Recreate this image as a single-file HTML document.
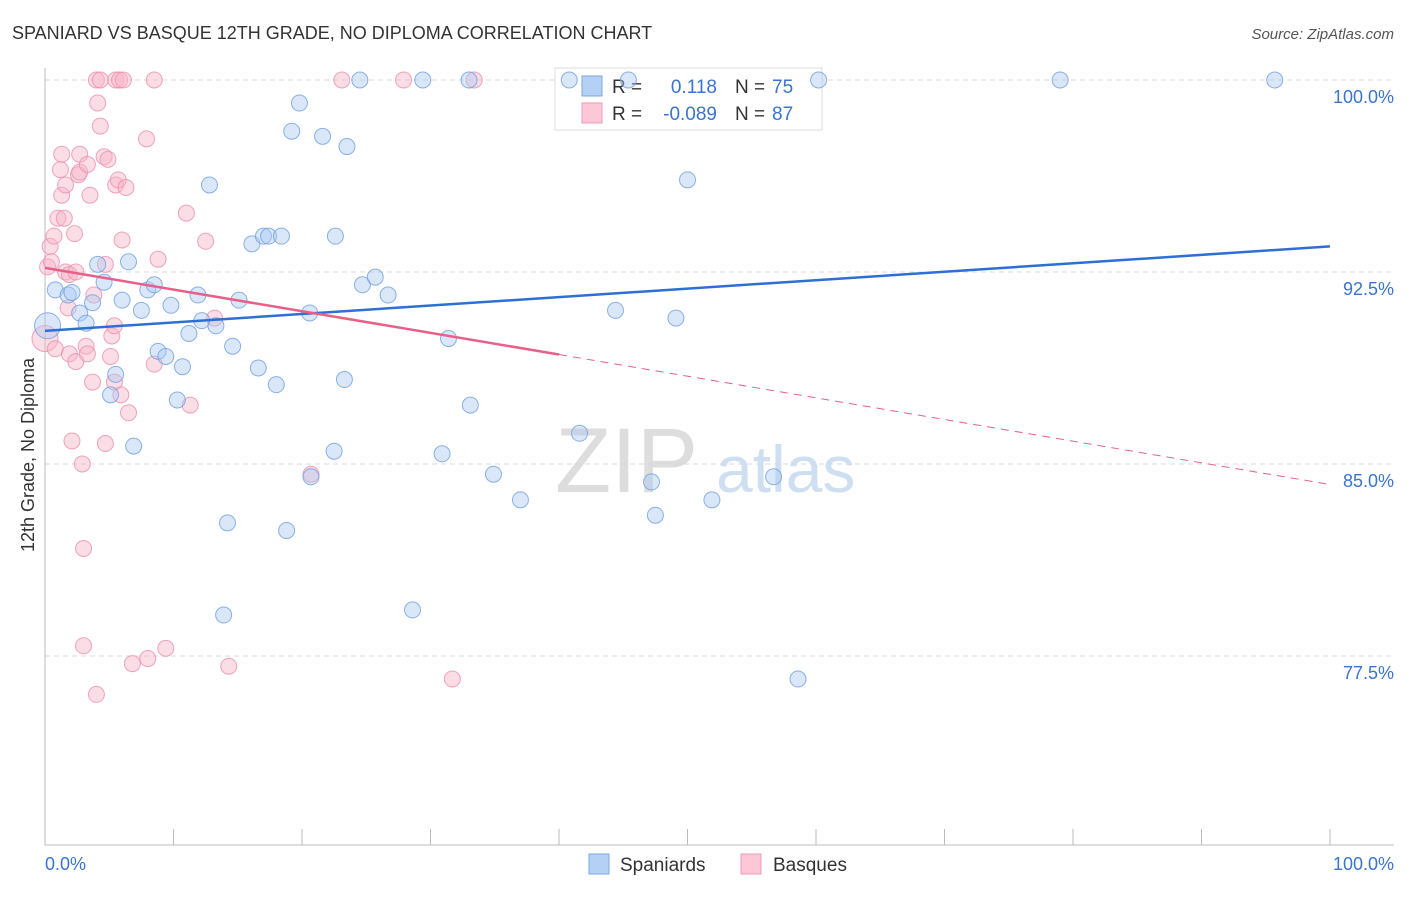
<!DOCTYPE html>
<html><head><meta charset="utf-8">
<style>
body{margin:0;background:#fff;font-family:"Liberation Sans",sans-serif;}
svg text{font-family:"Liberation Sans",sans-serif;}
</style></head>
<body>
<svg id="chart" width="1406" height="892" xmlns="http://www.w3.org/2000/svg">
<text x="12" y="39" font-size="18" fill="#333">SPANIARD VS BASQUE 12TH GRADE, NO DIPLOMA CORRELATION CHART</text>
<text x="1394" y="39" font-size="15" fill="#555" text-anchor="end" font-style="italic">Source: ZipAtlas.com</text>
<text transform="translate(34,455) rotate(-90)" font-size="18" fill="#333" text-anchor="middle">12th Grade, No Diploma</text>
<g>
<text x="555" y="492" font-size="92" fill="#ddd" font-family="Liberation Serif">ZIP</text>
<text x="716" y="492" font-size="66" fill="#cfdff2">atlas</text>
</g>
<g id="grid"></g><g id="axes"></g>
<g>
<rect x="555" y="68" width="267" height="62" fill="#fff" stroke="#ddd"/>
<rect x="582" y="76" width="20" height="20" fill="#b5d0f5" stroke="#7aa7e6"/>
<rect x="582" y="103" width="20" height="20" fill="#fcc7d6" stroke="#f09ab4"/>
<text x="612" y="93" font-size="19" fill="#333">R =</text>
<text x="717" y="93" font-size="19" fill="#3a74d0" text-anchor="end">0.118</text>
<text x="735" y="93" font-size="19" fill="#333">N =</text>
<text x="772" y="93" font-size="19" fill="#3a74d0">75</text>
<text x="612" y="120" font-size="19" fill="#333">R =</text>
<text x="717" y="120" font-size="19" fill="#3a74d0" text-anchor="end">-0.089</text>
<text x="735" y="120" font-size="19" fill="#333">N =</text>
<text x="772" y="120" font-size="19" fill="#3a74d0">87</text>
</g>
<g id="marks"></g><g id="trends"></g>
<g>
<rect x="589" y="854" width="20" height="20" fill="#b5d0f5" stroke="#7aa7e6"/>
<text x="620" y="871" font-size="19" fill="#333">Spaniards</text>
<rect x="741" y="854" width="20" height="20" fill="#fcc7d6" stroke="#f09ab4"/>
<text x="773" y="871" font-size="19" fill="#333">Basques</text>
</g>
<text x="45" y="870" font-size="18" fill="#3a74d0">0.0%</text>
<text x="1394" y="870" font-size="18" fill="#3a74d0" text-anchor="end">100.0%</text>
</svg>
<script>
const yTicks=[100,92.5,85,77.5];
const yTickLabels=["100.0%","92.5%","85.0%","77.5%"];
const xTicks=[0,10,20,30,40,50,60,70,80,90,100];
const blueX=[0.2,0.8,1.8,2.1,2.7,3.2,3.7,4.1,4.6,5.5,5.1,6.0,6.5,6.9,7.5,8.0,8.5,8.8,9.4,9.8,10.3,10.7,11.2,11.9,12.2,12.8,13.3,14.2,14.6,13.9,15.1,16.1,16.6,17.0,17.4,18.0,18.4,18.8,19.2,19.8,20.6,20.7,21.6,22.5,22.6,23.3,23.5,24.5,24.7,25.7,26.7,28.6,29.4,30.9,31.4,33.0,33.1,34.9,37.0,40.8,41.6,44.4,45.4,47.2,47.5,49.1,50.0,51.9,56.7,58.6,60.2,79.0,95.7];
const blueY=[90.4,91.8,91.6,91.7,90.9,90.5,91.3,92.8,92.1,88.5,87.7,91.4,92.9,85.7,91.0,91.8,92.0,89.4,89.2,91.2,87.5,88.8,90.1,91.6,90.6,95.9,90.4,82.7,89.6,79.1,91.4,93.6,88.75,93.9,93.9,88.1,93.9,82.4,98.0,99.1,90.9,84.5,97.8,85.5,93.9,88.3,97.4,100,92.0,92.3,91.6,79.3,100,85.4,89.9,100,87.3,84.6,83.6,100,86.2,91.0,100,84.3,83.0,90.7,96.1,83.6,84.5,76.6,100,100,100];
const pinkX=[0,0.2,0.4,0.5,0.7,0.8,1.0,1.2,1.3,1.3,1.5,1.6,1.6,1.8,1.9,1.9,2.1,2.3,2.4,2.4,2.6,2.7,2.7,2.9,3.0,3.0,3.2,3.3,3.3,3.5,3.7,3.8,4.0,4.0,4.1,4.3,4.3,4.6,4.7,4.7,4.9,5.1,5.2,5.4,5.4,5.5,5.5,5.7,5.8,5.9,6.0,6.1,6.3,6.5,6.8,7.9,8.0,8.5,8.5,8.8,9.4,11.0,11.3,12.5,13.2,14.3,20.7,23.1,27.9,31.7,33.4];
const pinkY=[89.9,92.7,93.5,92.9,93.9,89.5,94.6,96.5,95.5,97.1,94.6,95.9,92.5,91.1,89.3,92.4,85.9,94.0,89.0,92.5,96.3,96.4,97.1,85.0,81.7,77.9,89.6,96.7,89.3,95.5,88.2,91.6,100,76.0,99.1,98.2,100,97.0,85.8,92.8,96.9,89.2,90.0,90.4,88.2,100,95.9,96.1,100,87.7,93.75,100,95.8,87.0,77.2,97.7,77.4,100,88.9,93.0,77.8,94.8,87.3,93.7,90.7,77.1,84.6,100,100,76.6,100];
const blueTrend=[90.2,93.5];
const pinkTrend=[92.66,84.2];
const pinkSolidEnd=40;
const NS="http://www.w3.org/2000/svg";
const X=v=>45+v*12.85, Y=v=>80+(100-v)*25.6;
function mk(tag,attrs,parent){const e=document.createElementNS(NS,tag);for(const k in attrs)e.setAttribute(k,attrs[k]);parent.appendChild(e);return e;}
const grid=document.getElementById('grid'),axes=document.getElementById('axes'),marks=document.getElementById('marks'),trends=document.getElementById('trends');
yTicks.forEach((t,i)=>{
 const l=mk('line',{x1:45,x2:1394,y1:Y(t),y2:Y(t),stroke:'#d8d8d8','stroke-dasharray':'5,4'},grid);
 
 
 const tx=mk('text',{x:1394,y:Y(t)+23,'font-size':18,fill:'#3a74d0','text-anchor':'end'},grid);
 tx.textContent=yTickLabels[i];
 
 
});
const ya=mk('line',{x1:45,x2:45,y1:68,y2:845,stroke:'#bbb'},axes);


const xa=mk('line',{x1:45,x2:1394,y1:845,y2:845,stroke:'#bbb'},axes);


xTicks.forEach(t=>{
 const l=mk('line',{x1:X(t),x2:X(t),y1:829,y2:845,stroke:'#bbb'},axes);
 
 
});
function pts(xs,ys,fill,stroke,name){
 xs.forEach((x,i)=>{
  const c=mk('circle',{cx:X(x),cy:Y(ys[i]),r:(i===0?13:8),fill:fill,'fill-opacity':0.45,stroke:stroke,'stroke-opacity':0.8,'stroke-width':1},marks);
  
  
 });
}
pts(pinkX,pinkY,'#f7b4c8','#ec8fac','basque-point');
pts(blueX,blueY,'#abc9f2','#6f9fe0','spaniard-point');
const bl=mk('line',{x1:X(0),y1:Y(blueTrend[0]),x2:X(100),y2:Y(blueTrend[1]),stroke:'#2e6fd4','stroke-width':2.5},trends);


const pAt=x=>pinkTrend[0]+(pinkTrend[1]-pinkTrend[0])*x/100;
const ps=mk('line',{x1:X(0),y1:Y(pAt(0)),x2:X(pinkSolidEnd),y2:Y(pAt(pinkSolidEnd)),stroke:'#e8608a','stroke-width':2.5},trends);


const pd=mk('line',{x1:X(pinkSolidEnd),y1:Y(pAt(pinkSolidEnd)),x2:X(100),y2:Y(pAt(100)),stroke:'#e8608a','stroke-width':1,'stroke-dasharray':'8,6'},trends);


</script>
</body></html>
